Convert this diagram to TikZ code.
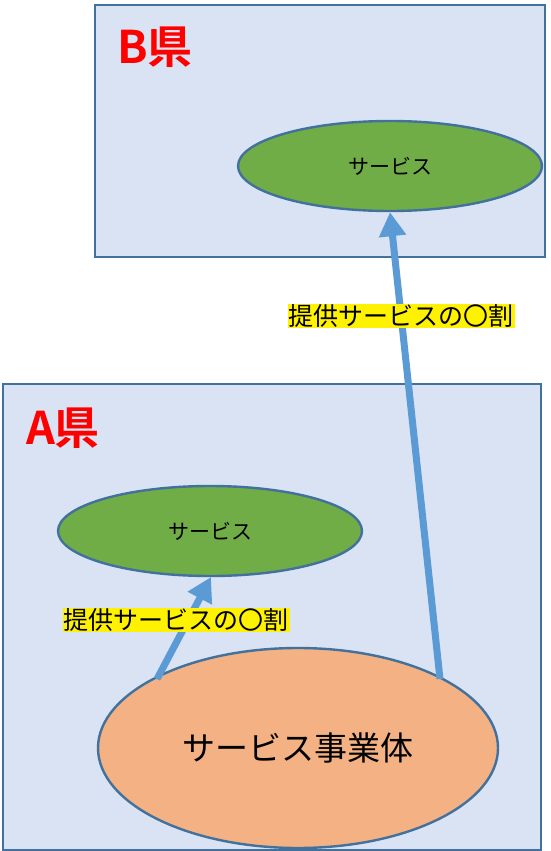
\documentclass[tikz,border=0pt]{standalone}
\usepackage{fontspec}
\setmainfont{Noto Sans CJK JP}
\newfontfamily\jpbold{Noto Sans CJK JP Bold}
\usetikzlibrary{arrows.meta}
\definecolor{boxfill}{HTML}{DAE3F3}
\definecolor{boxline}{HTML}{41719C}
\definecolor{greenfill}{HTML}{70AD47}
\definecolor{orangefill}{HTML}{F4B183}
\definecolor{arrowblue}{HTML}{5B9BD5}
\tikzset{
  region/.style={draw=boxline, fill=boxfill, line width=2.4pt},
  svc/.style={ellipse, draw=boxline, fill=greenfill, line width=2.4pt, minimum width=304pt, minimum height=90pt, font=\fontsize{21pt}{23pt}\selectfont, inner sep=0pt},
  biz/.style={ellipse, draw=boxline, fill=orangefill, line width=2.4pt, minimum width=400pt, minimum height=200pt, font=\fontsize{33pt}{35pt}\selectfont, inner sep=0pt},
  flow/.style={draw=arrowblue, line width=7pt, -{Triangle[length=24pt, width=26pt]}, shorten >=0pt},
  share/.style={fill=yellow, font=\fontsize{25pt}{27pt}\selectfont, inner xsep=1pt, inner ysep=1pt},
  pref/.style={text=red, font=\jpbold\fontsize{45pt}{47pt}\selectfont, inner sep=0pt},
}
\usetikzlibrary{shapes.geometric}
\begin{document}
\begin{tikzpicture}[x=1pt, y=-1pt]
\useasboundingbox (0,0) rectangle (551,851);
\path[region] (95,5) rectangle (545,257);
\path[region] (3,384) rectangle (541,850);
\node[pref] (bl) at (155,47) {B県};
\node[pref] (al) at (63,428) {A県};
\node[svc] (bs) at (390,166) {サービス};
\node[svc] (as) at (210,531) {サービス};
\node[biz] (biz) at (298,748) {サービス事業体};
\coordinate (s1) at (440,679);
\coordinate (s2) at (157,679);
\draw[flow] (s1) -- (bs.south);
\draw[flow] (s2) -- (211,577);
\node[share] (lb) at (401,316) {提供サービスの〇割};
\node[share] (la) at (176,620) {提供サービスの〇割};
\end{tikzpicture}
\end{document}
